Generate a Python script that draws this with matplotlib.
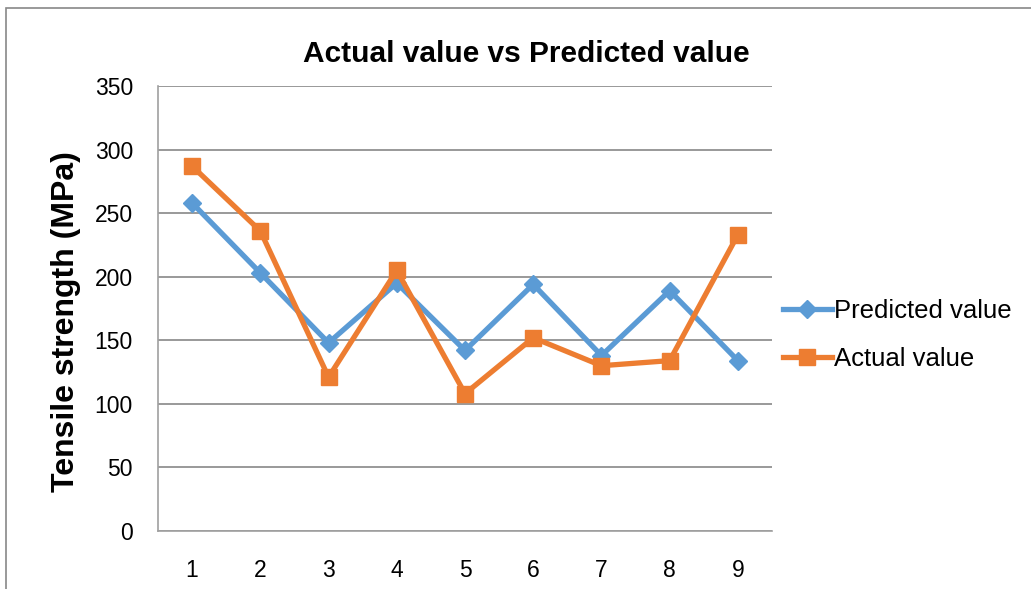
import matplotlib.pyplot as plt
from matplotlib.patches import Rectangle

plt.rcParams['font.family'] = ['Liberation Sans', 'DejaVu Sans']

samples = [1, 2, 3, 4, 5, 6, 7, 8, 9]
predicted = [258, 203, 148, 195, 142, 194, 138, 189, 134]
actual = [287, 236, 121, 205, 108, 152, 130, 134, 233]
y_ticks = [0, 50, 100, 150, 200, 250, 300, 350]

blue = '#5b9bd5'
orange = '#ed7d31'
grid = '#888888'

fig = plt.figure(figsize=(10.31, 5.89), dpi=100)
# outer chart border, runs off the right and bottom edges
fig.patches.append(Rectangle((6 / 1031, -0.1), 1.2, 1 - 8 / 589 + 0.1,
                             transform=fig.transFigure, fill=False,
                             edgecolor='#888888', linewidth=1.2))

ax = fig.add_axes([158 / 1031, 58 / 589, 614 / 1031, 445 / 589])
ax.plot(samples, predicted, color=blue, lw=3.8, marker='D', ms=9,
        label='Predicted value', zorder=3)
ax.plot(samples, actual, color=orange, lw=3.8, marker='s', ms=11,
        label='Actual value', zorder=4)

ax.set_xlim(0.5, 9.5)
ax.set_ylim(0, 350)
ax.set_xticks(samples)
ax.set_yticks(y_ticks)
ax.tick_params(axis='both', length=0, labelsize=16.5)
ax.tick_params(axis='x', pad=20)
ax.tick_params(axis='y', pad=18)
ax.yaxis.grid(True, color=grid, lw=1.2)
ax.set_axisbelow(True)
for side in ['top', 'right']:
    ax.spines[side].set_visible(False)
for side in ['left', 'bottom']:
    ax.spines[side].set_color('#a0a0a0')
    ax.spines[side].set_linewidth(1.2)

ax.set_title('Actual value vs Predicted value', fontsize=21.5, fontweight='bold',
             pad=17, x=0.6)
ax.set_ylabel('Tensile strength (MPa)', fontsize=23, fontweight='bold')
ax.yaxis.set_label_coords(-0.125, 0.47)

ax.legend(loc='center left', bbox_to_anchor=(0.98, 0.44), frameon=False,
          fontsize=18.5, handlelength=1.9, handletextpad=0.1, labelspacing=0.95)

fig.savefig('out.png', dpi=100)
